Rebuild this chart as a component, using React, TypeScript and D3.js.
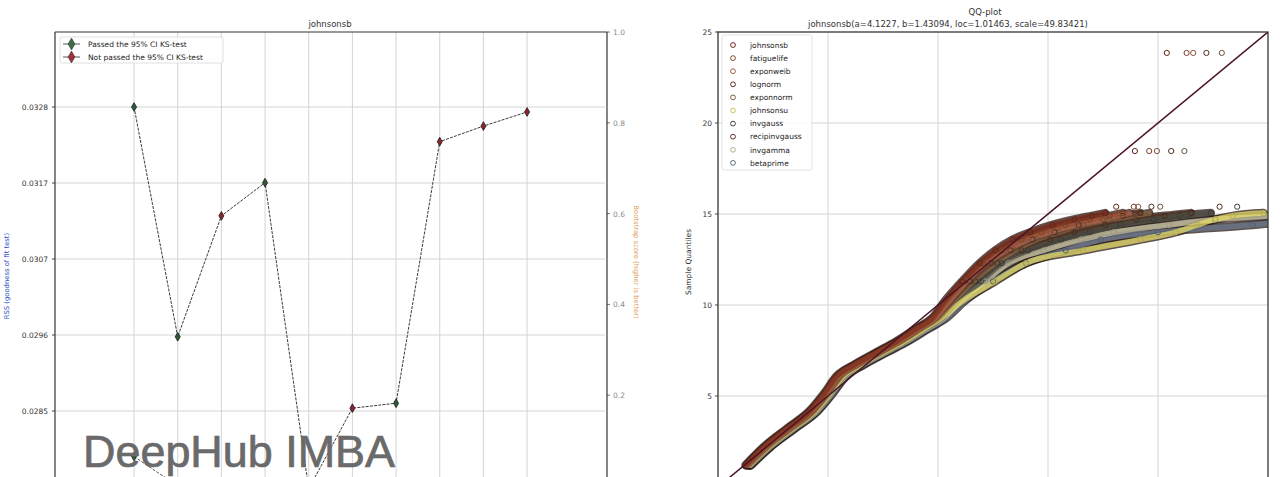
import React from 'react';
import * as d3 from 'd3';

// ---------- data: left panel (distfit summary) ----------
const distNames = ['johnsonsb', 'fatiguelife', 'exponweib', 'lognorm', 'exponnorm', 'johnsonsu', 'invgauss', 'recipinvgauss', 'invgamma', 'betaprime'];
const rssScores = [0.0328, 0.02955, 0.03126, 0.03173, 0.0274, 0.02854, 0.02861, 0.03231, 0.03253, 0.03273];
const bootstrapScores = [0.065, 0, 0, 0, 0, 0, 0, 0, 0, 0];
const ksPassed = [true, true, false, true, true, false, true, false, false, false];
const rssTickValues = [0.0328, 0.031725, 0.03065, 0.029575, 0.0285];
const rssTickLabels = ['0.0328', '0.0317', '0.0307', '0.0296', '0.0285'];
const bootTickValues = [0.2, 0.4, 0.6, 0.8, 1.0];

// ---------- data: right panel (QQ plot) ----------
const sampleQuantiles = [1.2, 2.2, 3.2, 4.2, 5.1, 6.1, 6.7, 7.4, 8.0, 8.7, 9.3, 10.2, 11.3, 12.3, 13.0, 13.6, 14.0, 14.4, 14.7, 14.9, 15.05, 15.4, 18.46, 23.85];
const tqJohnsonsb = [1.25, 2.08, 3.12, 4.18, 4.80, 5.40, 6.16, 7.20, 8.10, 9.00, 9.75, 10.3, 11.1, 11.9, 12.6, 13.4, 14.2, 15.2, 16.2, 17.0, 17.6, 18.1, 18.95, 20.4];
const tqFatiguelife = [1.30, 2.13, 3.18, 4.24, 4.86, 5.46, 6.22, 7.27, 8.17, 9.07, 9.82, 10.4, 11.2, 12.05, 12.9, 13.8, 14.7, 15.8, 16.9, 17.8, 18.4, 18.9, 19.6, 21.3];
const tqExponweib = [1.33, 2.17, 3.22, 4.28, 4.90, 5.50, 6.26, 7.31, 8.22, 9.12, 9.88, 10.5, 11.3, 12.2, 13.1, 14.1, 15.1, 16.3, 17.5, 18.2, 18.7, 19.1, 19.95, 21.6];
const tqLognorm = [1.36, 2.21, 3.27, 4.33, 4.94, 5.55, 6.31, 7.36, 8.27, 9.18, 9.94, 10.6, 11.45, 12.4, 13.3, 14.3, 15.3, 16.4, 17.5, 18.4, 19.2, 19.7, 20.6, 22.2];
const tqExponnorm = [1.40, 2.25, 3.32, 4.38, 5.00, 5.61, 6.37, 7.42, 8.33, 9.25, 10.02, 10.7, 11.6, 12.6, 13.5, 14.5, 15.5, 16.6, 17.8, 18.9, 19.6, 20.1, 21.2, 22.9];
const tqJohnsonsu = [1.44, 2.30, 3.38, 4.45, 5.07, 5.70, 6.47, 7.53, 8.46, 9.39, 10.18, 11.1, 12.6, 14.0, 16.6, 19.2, 20.8, 21.8, 22.6, 23.4, 24.8, 26.5, 29.0, 33.0];
const tqInvgauss = [1.46, 2.33, 3.41, 4.48, 5.10, 5.73, 6.50, 7.57, 8.50, 9.43, 10.22, 10.9, 11.95, 12.9, 14.1, 15.6, 16.9, 18.3, 19.8, 21.0, 22.4, 23.6, 27.0, 32.0];
const tqRecipinvgauss = [1.42, 2.28, 3.35, 4.41, 5.03, 5.65, 6.42, 7.48, 8.40, 9.32, 10.10, 10.75, 11.7, 12.7, 13.8, 15.1, 16.2, 17.6, 19.0, 20.3, 21.5, 22.8, 26.0, 31.0];
const tqInvgamma = [1.48, 2.36, 3.44, 4.52, 5.14, 5.78, 6.55, 7.62, 8.56, 9.50, 10.30, 11.0, 12.15, 13.2, 14.8, 16.5, 18.0, 20.5, 22.6, 25.2, 27.0, 29.0, 34.0, 40.0];
const tqBetaprime = [1.50, 2.39, 3.48, 4.56, 5.19, 5.83, 6.61, 7.68, 8.63, 9.58, 10.40, 11.2, 12.5, 14.0, 15.8, 17.4, 20.0, 24.3, 27.0, 29.0, 31.0, 34.0, 42.0, 60.0];
const qqColors = ['#7e2f1e', '#9a5033', '#b06a52', '#66392a', '#8a6a4a', '#e6dc6a', '#4d4d45', '#5a3a28', '#c9c7a5', '#6b7a8f'];
const qqTicks = [0, 5, 10, 15, 20, 25];
const refLine = [0, 25];
const bandEnd = 21; // sample quantiles before this index form the dense band; the rest are isolated outliers

const qqTq = [tqJohnsonsb, tqFatiguelife, tqExponweib, tqLognorm, tqExponnorm, tqJohnsonsu, tqInvgauss, tqRecipinvgauss, tqInvgamma, tqBetaprime];

const FONT = 'DejaVu Sans, sans-serif';
const PASS = '#2f5a3a';
const FAIL = '#8e2330';

export default function App() {
  // ---- left panel geometry ----
  const L = { left: 55, right: 607, top: 32, bottom: 490 };
  const xL = d3.scaleLinear().domain([-1.81, 10.83]).range([L.left, L.right]);
  const yL = d3.scaleLinear().domain([0.0285, 0.0328]).range([411, 107]);
  const yR = d3.scaleLinear().domain([0, 1]).range([486, L.top]);
  const idx = d3.range(distNames.length);

  const rssLine = d3.line<number>().x((i) => xL(i)).y((i) => yL(rssScores[i]))(idx) || '';
  const bootLine = d3.line<number>().x((i) => xL(i)).y((i) => yR(bootstrapScores[i]))(idx) || '';
  const diamond = d3.symbol().type(d3.symbolDiamond).size(22)() || '';
  const diamondLg = d3.symbol().type(d3.symbolDiamond).size(40)() || '';

  // ---- right panel geometry ----
  const R = { left: 718, right: 1268, top: 32, bottom: 490 };
  const xQ = d3.scaleLinear().domain([0, 25]).range([R.left, R.right]);
  const yQ = d3.scaleLinear().domain([0, 25]).range([487, R.top]);

  const series = distNames.map((name, s) => ({
    name,
    color: qqColors[s],
    tq: qqTq[s],
  }));
  const bandQ = sampleQuantiles.slice(0, bandEnd);
  const pathFor = (tq: number[]) =>
    d3
      .line<number>()
      .x((_, i) => xQ(tq[i]))
      .y((q) => yQ(q))
      .curve(d3.curveMonotoneX)(bandQ) || '';
  const refPath =
    d3
      .line<number>()
      .x((v) => xQ(v))
      .y((v) => yQ(v))(refLine) || '';

  const drawOrder = [...series].reverse();

  return (
    <svg
      width={1280}
      height={477}
      style={{ position: 'absolute', left: 0, top: 0, background: '#fff' }}
      fontFamily={FONT}
    >
      <defs>
        <clipPath id="clipL">
          <rect x={L.left} y={L.top} width={L.right - L.left} height={L.bottom - L.top} />
        </clipPath>
        <clipPath id="clipR">
          <rect x={R.left} y={R.top} width={R.right - R.left} height={R.bottom - R.top} />
        </clipPath>
      </defs>
      <rect x={0} y={0} width={1280} height={477} fill="#fff" />

      {/* ================= LEFT PANEL ================= */}
      <g>
        {idx.map((i) => (
          <line key={'vg' + i} x1={xL(i)} x2={xL(i)} y1={L.top} y2={L.bottom} stroke="#d4d4d4" strokeWidth={1} />
        ))}
        {rssTickValues.map((v, i) => (
          <line key={'hg' + i} x1={L.left} x2={L.right - 2} y1={yL(v)} y2={yL(v)} stroke="#d4d4d4" strokeWidth={1} />
        ))}
        {rssTickValues.map((v, i) => (
          <g key={'lt' + i}>
            <line x1={L.left - 3} x2={L.left} y1={yL(v)} y2={yL(v)} stroke="#444" />
            <text x={L.left - 7} y={yL(v) + 3} fontSize={7.5} textAnchor="end" fill="#333">
              {rssTickLabels[i]}
            </text>
          </g>
        ))}
        {bootTickValues.map((v, i) => (
          <g key={'rt' + i}>
            <line x1={L.right} x2={L.right + 3} y1={yR(v)} y2={yR(v)} stroke="#777" />
            <text x={L.right + 6} y={yR(v) + 3} fontSize={7.5} textAnchor="start" fill="#8a8a8a">
              {d3.format('.1f')(v)}
            </text>
          </g>
        ))}
        <g clipPath="url(#clipL)">
          <path d={bootLine} fill="none" stroke="#555" strokeWidth={1} strokeDasharray="3,1.5" />
          <path d={rssLine} fill="none" stroke="#3a3a3a" strokeWidth={1} strokeDasharray="3,1.2" />
          {idx.map((i) => (
            <path
              key={'bm' + i}
              d={diamond}
              transform={`translate(${xL(i)},${yR(bootstrapScores[i])})`}
              fill={ksPassed[i] ? PASS : FAIL}
              stroke="#1a1a1a"
              strokeWidth={0.8}
            />
          ))}
          {idx.map((i) => (
            <path
              key={'m' + i}
              d={diamond}
              transform={`translate(${xL(i)},${yL(rssScores[i])})`}
              fill={ksPassed[i] ? PASS : FAIL}
              stroke="#1a1a1a"
              strokeWidth={0.8}
            />
          ))}
        </g>
        <line x1={L.left} x2={L.right} y1={L.top} y2={L.top} stroke="#333" strokeWidth={1.2} />
        <line x1={L.left} x2={L.left} y1={L.top} y2={L.bottom} stroke="#333" strokeWidth={1.2} />
        <line x1={L.right} x2={L.right} y1={L.top} y2={L.bottom} stroke="#333" strokeWidth={1.2} />

        <rect x={60} y={37} width={163} height={26} rx={2} fill="#fff" fillOpacity={0.85} stroke="#e0e0e0" />
        {[
          { label: 'Passed the 95% CI KS-test', c: '#3b7046', y: 44 },
          { label: 'Not passed the 95% CI KS-test', c: '#a3303a', y: 57 },
        ].map((e) => (
          <g key={e.label}>
            <line x1={63} x2={80} y1={e.y} y2={e.y} stroke="#555" strokeWidth={1} />
            <path d={diamondLg} transform={`translate(71.5,${e.y})`} fill={e.c} stroke="#333" strokeWidth={0.6} />
            <text x={88} y={e.y + 2.8} fontSize={7.5} fill="#222">
              {e.label}
            </text>
          </g>
        ))}

        <text x={330} y={27} fontSize={8.5} textAnchor="middle" fill="#333">
          johnsonsb
        </text>
        <text transform="translate(9,276) rotate(-90)" fontSize={6.8} textAnchor="middle" fill="#2a4cc4">
          RSS (goodness of fit test)
        </text>
        <text transform="translate(634,262) rotate(90)" fontSize={6.8} textAnchor="middle" fill="#e0a050">
          Bootstrap score (higher is better)
        </text>
      </g>

      {/* ================= RIGHT PANEL (QQ) ================= */}
      <g>
        {qqTicks.map((t) => (
          <line key={'qv' + t} x1={xQ(t)} x2={xQ(t)} y1={R.top} y2={R.bottom} stroke="#d4d4d4" />
        ))}
        {qqTicks.map((t) => (
          <line key={'qh' + t} x1={R.left} x2={R.right} y1={yQ(t)} y2={yQ(t)} stroke="#d4d4d4" />
        ))}
        {qqTicks
          .filter((t) => t > 0)
          .map((t) => (
            <g key={'qt' + t}>
              <line x1={R.left - 3} x2={R.left} y1={yQ(t)} y2={yQ(t)} stroke="#444" />
              <text x={R.left - 6} y={yQ(t) + 3} fontSize={7.5} textAnchor="end" fill="#333">
                {t}
              </text>
            </g>
          ))}

        <g clipPath="url(#clipR)">
          {drawOrder.map((s) => (
            <path
              key={'u' + s.name}
              d={pathFor(s.tq)}
              fill="none"
              stroke="#2a1a14"
              strokeOpacity={0.75}
              strokeWidth={8.5}
              strokeLinecap="round"
              strokeLinejoin="round"
            />
          ))}
          {drawOrder.map((s) => (
            <path
              key={'c' + s.name}
              d={pathFor(s.tq)}
              fill="none"
              stroke={s.color}
              strokeOpacity={0.75}
              strokeWidth={5.5}
              strokeLinecap="round"
              strokeLinejoin="round"
            />
          ))}
          {drawOrder.map((s) =>
            sampleQuantiles.map((q, i) =>
              i >= 12 ? (
                <circle
                  key={s.name + i}
                  cx={xQ(s.tq[i])}
                  cy={yQ(q)}
                  r={2.6}
                  fill="none"
                  stroke={d3.color(s.color)!.darker(0.7).formatHex()}
                  strokeWidth={1}
                />
              ) : null
            )
          )}
          <path d={refPath} fill="none" stroke="#4a1428" strokeWidth={1.5} />
        </g>
        <rect x={R.left} y={R.top} width={R.right - R.left} height={R.bottom - R.top} fill="none" stroke="#333" strokeWidth={1.2} />

        <rect x={722} y={35} width={90} height={135} rx={2} fill="#fff" fillOpacity={0.85} stroke="#e2e2e2" />
        {series.map((s, i) => (
          <g key={'lg' + s.name}>
            <circle cx={733} cy={45 + i * 13.1} r={2.4} fill="none" stroke={d3.color(s.color)!.darker(0.3).formatHex()} strokeWidth={1} />
            <text x={750} y={47.7 + i * 13.1} fontSize={7.5} fill="#222">
              {s.name}
            </text>
          </g>
        ))}

        <text x={985} y={15} fontSize={8.5} textAnchor="middle" fill="#333">
          QQ-plot
        </text>
        <text x={948} y={27} fontSize={8.5} textAnchor="middle" fill="#333">
          johnsonsb(a=4.1227, b=1.43094, loc=1.01463, scale=49.83421)
        </text>
        <text transform="translate(691,262) rotate(-90)" fontSize={7.5} textAnchor="middle" fill="#333">
          Sample Quantiles
        </text>
      </g>

      {/* watermark */}
      <text
        x={83}
        y={467}
        fontSize={44}
        textLength={312}
        lengthAdjust="spacingAndGlyphs"
        fontFamily="Liberation Sans, Arial, sans-serif"
        fill="#6a6a6a"
        stroke="#6a6a6a"
        strokeWidth={0.7}
      >
        DeepHub IMBA
      </text>
    </svg>
  );
}
